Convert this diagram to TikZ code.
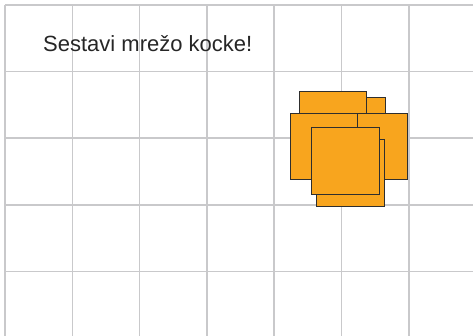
\documentclass[tikz,border=0pt]{standalone}
\usepackage{fontspec}
\setmainfont{Liberation Sans}
\usetikzlibrary{positioning}

\definecolor{faceorange}{HTML}{F8A51E}
\definecolor{gridgray}{HTML}{C9C9CB}
\definecolor{edgegray}{HTML}{2E2E2E}

\begin{document}
\begin{tikzpicture}[
    x=1pt, y=-1pt,
    gridline/.style={draw=gridgray, line width=1.5pt},
    face/.style={draw=edgegray, line width=1pt, fill=faceorange, inner sep=0pt,
      minimum width=67.5pt, minimum height=66.5pt},
    title/.style={font=\fontsize{22}{26}\selectfont, text=black!85, anchor=base west, inner sep=0pt}
  ]
    \useasboundingbox (0,0) rectangle (473,336);
    \fill[white] (0,0) rectangle (473,336);
    % grid of the sheet
    \foreach \gx in {5,72.3,139.6,206.9,274.2,341.5,408.8}
      \draw[gridline] (\gx,5) -- (\gx,336);
    \foreach \gy in {5,71.6,138.2,204.8,271.4}
      \draw[gridline] (5,\gy) -- (473,\gy);
    \node[title] (task) at (43,52) {Sestavi mrežo kocke!};
    % the six faces, back to front
    \node[face] (back) at (351.3,131) {};
    \node[face] (top) at (333,124.3) {};
    \node[face] (right) at (373.5,146.3) {};
    \node[face] (left) at (323.8,146.3) {};
    \node[face] (bottom) at (350.5,172.9) {};
    \node[face] (front) at (345.5,161.2) {};
  \end{tikzpicture}
\end{document}
